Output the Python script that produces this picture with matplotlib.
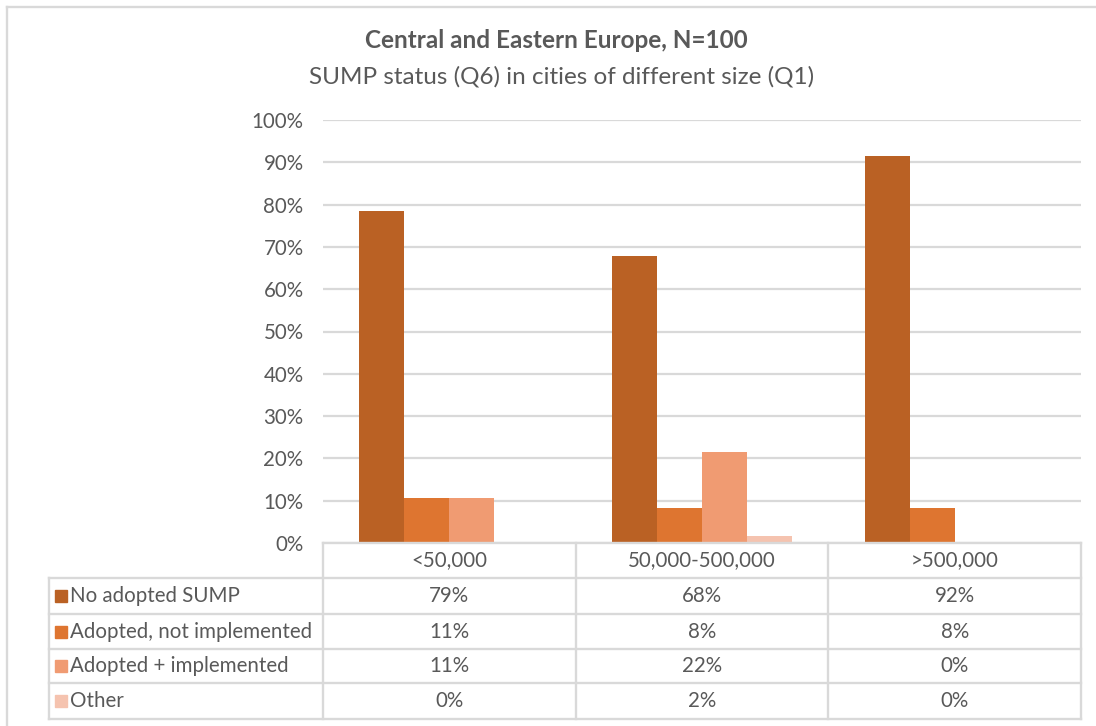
import numpy as np
import matplotlib
matplotlib.use("Agg")
import matplotlib.pyplot as plt
from matplotlib.patches import Rectangle

plt.rcParams['font.family'] = ['Lato', 'DejaVu Sans']

city_sizes = ['<50,000', '50,000-500,000', '>500,000']
statuses = ['No adopted SUMP', 'Adopted, not implemented', 'Adopted + implemented', 'Other']
no_adopted = [78.6, 67.9, 91.6]
adopted_not_impl = [10.6, 8.3, 8.2]
adopted_impl = [10.6, 21.6, 0.0]
other = [0.0, 1.6, 0.0]
colors = ['#BA6124', '#DE7530', '#F09B72', '#F5C3AF']

series = [no_adopted, adopted_not_impl, adopted_impl, other]

TXT = '#595959'
LINE = '#D9D9D9'
FS = 14.8
W, H = 1096, 726
fig = plt.figure(figsize=(W / 100, H / 100), dpi=100)

# plot area box in pixels
left, right, top, bottom = 323, 1081, 120, 543
ax = fig.add_axes([left / W, 1 - bottom / H, (right - left) / W, (bottom - top) / H])
bw = 0.178
x = np.arange(len(city_sizes))
for i, (vals, c) in enumerate(zip(series, colors)):
    ax.bar(x + (i - 1.5) * bw, vals, bw, color=c, zorder=2)
ax.set_xlim(-0.5, 2.5)
ax.set_ylim(0, 100)
ticks = range(0, 101, 10)
ax.set_yticks(ticks)
ax.set_yticklabels([f'{t}%' for t in ticks])
ax.yaxis.grid(True, color=LINE, lw=1.6)
ax.set_axisbelow(True)
ax.tick_params(axis='y', length=0, pad=14, labelsize=FS, labelcolor=TXT)
ax.set_xticks([])
for s in ax.spines.values():
    s.set_visible(False)

# overlay in pixel coords for frame and data table
ov = fig.add_axes([0, 0, 1, 1])
ov.set_xlim(0, W)
ov.set_ylim(H, 0)
ov.axis('off')
ov.patch.set_alpha(0)

lw = 1.7
# chart frame (top and left edges)
ov.plot([7, W], [7, 7], color=LINE, lw=lw)
ov.plot([7, 7], [7, H], color=LINE, lw=lw)

row_y = [543, 578, 614, 649, 683, 719]
tbl_left = 49
col_edges = [left + k * (right - left) / 3 for k in range(4)]
ov.plot([left, right], [row_y[0], row_y[0]], color=LINE, lw=lw)
for y in row_y[1:]:
    ov.plot([tbl_left, right], [y, y], color=LINE, lw=lw)
ov.plot([tbl_left, tbl_left], [row_y[1], row_y[-1]], color=LINE, lw=lw)
for xe in col_edges:
    ov.plot([xe, xe], [row_y[0], row_y[-1]], color=LINE, lw=lw)

col_mid = [(col_edges[k] + col_edges[k + 1]) / 2 for k in range(3)]
hdr_mid = (row_y[0] + row_y[1]) / 2
for cx, name in zip(col_mid, city_sizes):
    ov.text(cx, hdr_mid, name, ha='center', va='center', fontsize=FS, color=TXT)

for r, (name, vals, c) in enumerate(zip(statuses, series, colors)):
    cy = (row_y[r + 1] + row_y[r + 2]) / 2
    ov.add_patch(Rectangle((55, cy - 6), 12, 12, color=c))
    ov.text(70, cy, name, ha='left', va='center', fontsize=FS, color=TXT)
    for cx, v in zip(col_mid, vals):
        ov.text(cx, cy, f'{v:.0f}%', ha='center', va='center', fontsize=FS, color=TXT)

fig.text(556 / W, 1 - 40 / H, 'Central and Eastern Europe, N=100', ha='center', va='center',
         fontsize=17.5, fontweight='bold', color=TXT)
fig.text(562 / W, 1 - 77 / H, 'SUMP status (Q6) in cities of different size (Q1)', ha='center',
         va='center', fontsize=17.5, color=TXT)

fig.savefig('out.png', dpi=100, facecolor='white')
